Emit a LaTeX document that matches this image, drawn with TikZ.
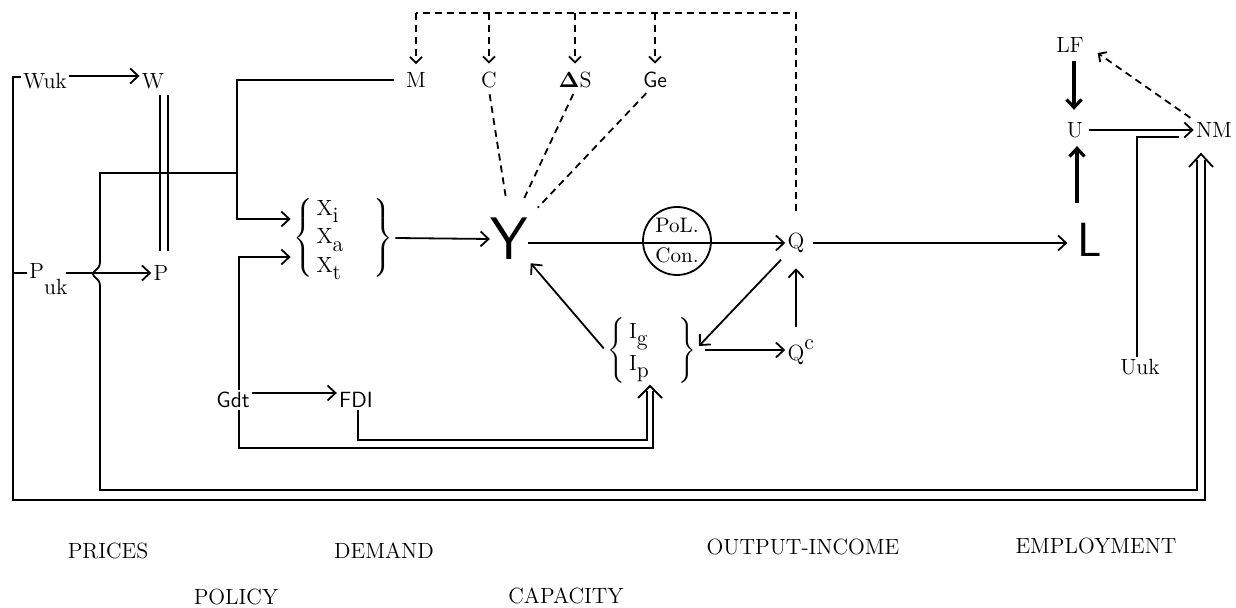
\documentclass[tikz,border=0pt]{standalone}
\usepackage{amsmath}
\usepackage{tikz}
\usetikzlibrary{arrows.meta}
\newcommand{\lowsub}[1]{\raisebox{-0.8ex}{#1}}

\begin{document}
\begin{tikzpicture}[x=0.5pt,y=-0.5pt,
  ln/.style={line width=0.9pt},
  arr/.style={ln,-{Straight Barb[length=4pt,width=7.5pt]}},
  dsh/.style={ln,dash pattern=on 3.5pt off 2.5pt},
  darr/.style={dsh,-{Straight Barb[length=3pt,width=6pt]}},
  thk/.style={line width=1.6pt,-{Straight Barb[length=4pt,width=7.5pt]}},
  lbl/.style={inner sep=1pt,font=\fontsize{11}{13}\selectfont},
  slbl/.style={lbl,font=\fontsize{11}{13}\selectfont\sffamily},
  big/.style={inner sep=0pt,font=\fontsize{30}{30}\selectfont\sffamily},
  sect/.style={inner sep=1pt,font=\fontsize{11}{13}\selectfont}]
  \useasboundingbox (0,0) rectangle (1236,608);

  \node[lbl] (Wuk) at (45,81) {Wuk};
  \node[lbl] (W) at (153,81) {W};
  \node[lbl,anchor=base west] (Puk) at (27,279) {P\raisebox{-1.6ex}{uk}};
  \node[lbl] (P) at (161,273) {P};
  \node[lbl] (M) at (416,80) {M};
  \node[lbl] (C) at (489,80) {C};
  \node[lbl] (DS) at (575,80) {$\mathbf{\Delta}$S};
  \node[slbl] (Ge) at (655,80) {Ge};
  \node[lbl] (X) at (343,238) {\renewcommand{\arraystretch}{1.1}$\left\{\begin{array}{@{\hspace{2pt}}l@{\hspace{15pt}}}\text{X\lowsub{i}}\\ \text{X\lowsub{a}}\\ \text{X\lowsub{t}}\end{array}\right\}$};
  \node[big] (Y) at (509,239) {Y};
  \node[circle,draw,line width=0.9pt,minimum size=34pt,inner sep=0pt,align=center,font=\fontsize{10.5}{11}\selectfont] (pc) at (677,241) {PoL.\\[4pt]Con.};
  \node[lbl] (Q) at (796,243) {Q};
  \node[lbl,anchor=base west] (Qc) at ([yshift=-56pt]Q.base west) {Q\raisebox{1.2ex}{c}};
  \node[lbl] (I) at (652,350) {\renewcommand{\arraystretch}{1.1}$\left\{\begin{array}{@{\hspace{2pt}}l@{\hspace{15pt}}}\text{I\lowsub{g}}\\ \text{I\lowsub{p}}\end{array}\right\}$};
  \node[slbl] (Gdt) at (233,400) {Gdt};
  \node[slbl] (FDI) at (356,400) {FDI};
  \node[big,font=\fontsize{24}{24}\selectfont\sffamily] (L) at (1090,240) {L};
  \node[lbl] (U) at (1075,130) {U};
  \node[lbl] (LF) at (1070,45) {LF};
  \node[lbl] (NM) at (1214,130) {NM};
  \node[lbl] (Uuk) at (1140,367) {Uuk};

  \node[sect] (prices) at (108,551) {PRICES};
  \node[sect] (demand) at (384,551) {DEMAND};
  \node[sect] (output) at (803,547) {OUTPUT-INCOME};
  \node[sect] (employ) at (1096,546) {EMPLOYMENT};
  \node[sect] (policy) at (236,597) {POLICY};
  \node[sect] (capacity) at (566,596) {CAPACITY};

  \coordinate (oL) at (13,500);
  \coordinate (oR) at (1205,500);
  \coordinate (iL) at (100,490);
  \coordinate (jn) at (237,173);
  \coordinate (topR) at (798,13);
  \coordinate (nmT) at (1201,154);
  \coordinate (ipT) at (650,386);
  \coordinate (gB) at (653,448);
  \coordinate (fB) at (647,440);

  \draw[ln,double,double distance=3.2pt,shorten <=2pt,shorten >=6pt] ([xshift=5.5pt]W.south) -- ([xshift=1.5pt]P.north);

  \draw[ln] ([yshift=2pt]Wuk.west) -- ([yshift=2pt]Wuk.west -| oL) -- (oL) -- (oR) -- ([shift={(4,6)}]nmT);
  \draw[ln] (oL |- P.west) -- (Puk.west |- P.west);
  \draw[ln] (jn) -- (jn -| iL) -- (100,262) .. controls (100,270) and (93,270) .. (93,274) .. controls (93,278) and (100,278) .. (100,286) -- (iL) -| ([shift={(-4,6)}]nmT);
  \draw[ln] ([shift={(-12,13)}]nmT) -- (nmT) -- ([shift={(12,13)}]nmT);

  \draw[arr] ([yshift=2.5pt]Wuk.east) -- ([yshift=2.5pt]W.west);
  \draw[arr,shorten <=-2pt] (Puk.east |- P.west) -- (P.west);

  \draw[arr,shorten <=5pt] (M.west) -- (M.west -| jn) |- ([yshift=9.5pt]X.west);
  \draw[arr] ([xshift=3pt]Gdt.north) |- ([yshift=-9.5pt]X.west);
  \draw[arr] (X.east) -- (Y.west);
  \draw[arr] (Y.east |- Q.west) -- (Q.west);

  \draw[dsh,shorten <=10pt] (Q.north) -- (Q.north |- topR) -- (M.north |- topR);
  \foreach \n in {M,C,DS,Ge}
    \draw[darr,shorten >=3pt] (\n.north |- topR) -- (\n.north);
  \draw[dsh,shorten <=2pt,shorten >=9pt] (C.south) -- (Y.north);
  \draw[dsh,shorten <=2pt,shorten >=9pt] (DS.south) -- ([xshift=3pt]Y.north);
  \draw[dsh,shorten <=2pt,shorten >=7pt] ([xshift=-3pt]Ge.south) -- (Y.north east);

  \draw[arr,shorten <=1pt,shorten >=2pt] (I.west) -- (Y.south east);
  \draw[arr,shorten <=3pt] (Q.south west) -- ([yshift=2pt]I.east);
  \draw[arr,shorten <=3pt] (I.east) -- (I.east -| Qc.west);
  \draw[arr] ([yshift=5pt]Q.south |- Qc.north) -- ([yshift=-6.5pt]Q.south);

  \draw[arr] ([yshift=3.5pt]Gdt.east) -- ([yshift=3.5pt]FDI.west);
  \draw[ln] ([xshift=3pt]Gdt.south) |- (gB) -- ([shift={(3,5)}]ipT);
  \draw[ln] ([xshift=1pt]FDI.south) |- (fB) -- ([shift={(-3,5)}]ipT);
  \draw[ln] ([shift={(-12,12)}]ipT) -- (ipT) -- ([shift={(12,12)}]ipT);

  \draw[arr,shorten <=3pt,shorten >=5pt] (Q.east) -- (Q.east -| L.west);
  \draw[thk,shorten <=10pt,shorten >=3pt] ([xshift=1pt]U.south |- L.north) -- ([xshift=1pt]U.south);
  \draw[thk,shorten <=3pt,shorten >=5pt] ([xshift=2pt]LF.south) -- ([xshift=2pt]LF.south |- U.north);
  \draw[arr,shorten <=2pt] (U.east) -- (NM.west);
  \draw[ln] (Uuk.north -| 1137,0) |- ([shift={(-15,7)}]NM.west);
  \draw[darr,shorten <=2pt,shorten >=7pt] (NM.north west) -- (LF.east);
\end{tikzpicture}
\end{document}
